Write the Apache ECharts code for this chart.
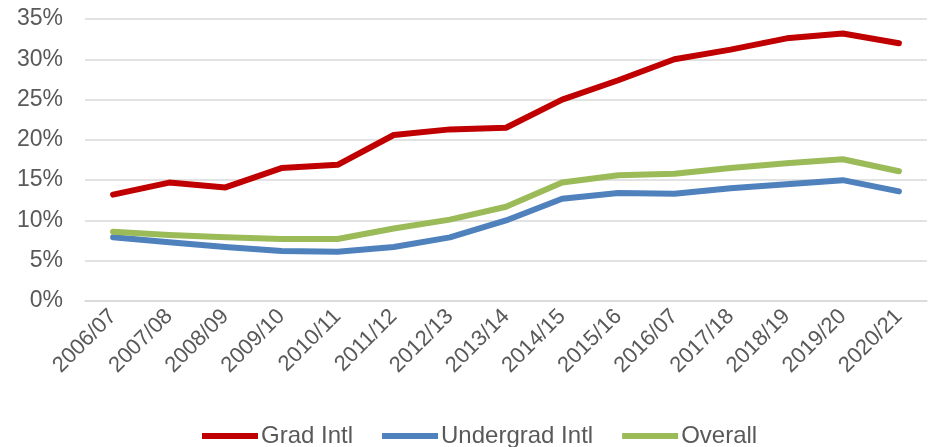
<!DOCTYPE html>
<html lang="en">
<head>
    <meta charset="UTF-8"/>
    <title>International share</title>
    <script src="https://cdn.jsdelivr.net/npm/echarts@6/dist/echarts.min.js"></script>
    <style>
        html, body { margin: 0; padding: 0; background: #fff; }
    </style>
</head>
<body>
<div id="main" style="width: 932px;height:447px;"></div>
<script type="text/javascript">
    // categories (the "2016/07" label is as printed in the original)
    var years = ['2006/07', '2007/08', '2008/09', '2009/10', '2010/11', '2011/12', '2012/13',
        '2013/14', '2014/15', '2015/16', '2016/07', '2017/18', '2018/19', '2019/20', '2020/21'];

    // percentages
    var gradIntl = [13.2, 14.7, 14.1, 16.5, 16.9, 20.6, 21.3, 21.5, 25.0, 27.4, 30.0, 31.2, 32.6, 33.2, 32.0];
    var undergradIntl = [7.9, 7.3, 6.7, 6.2, 6.1, 6.7, 7.9, 10.0, 12.7, 13.4, 13.3, 14.0, 14.5, 15.0, 13.6];
    var overall = [8.6, 8.2, 7.9, 7.7, 7.7, 9.0, 10.1, 11.7, 14.7, 15.6, 15.8, 16.5, 17.1, 17.6, 16.1];

    var yTicks = [0, 5, 10, 15, 20, 25, 30, 35];

    var font = 'Liberation Sans, Arial, sans-serif';
    var labelColor = '#595959';

    function line(name, data, color) {
        return {
            name: name,
            type: 'line',
            data: data,
            symbol: 'none',
            lineStyle: {width: 6, color: color, cap: 'round', join: 'round'},
            itemStyle: {color: color}
        };
    }

    var myChart = echarts.init(document.getElementById('main'));

    var option = {
        animation: false,
        grid: {left: 85, right: 5, top: 19, bottom: 146, containLabel: false},
        legend: {
            top: 419,
            left: 197,
            icon: 'rect',
            itemWidth: 56,
            itemHeight: 6,
            itemGap: 29,
            textStyle: {fontFamily: font, fontSize: 24, color: labelColor, padding: [0, 0, 0, -2]},
            data: ['Grad Intl', 'Undergrad Intl', 'Overall']
        },
        xAxis: {
            type: 'category',
            data: years,
            boundaryGap: true,
            axisLine: {show: true, lineStyle: {color: '#d9d9d9', width: 1.5}},
            axisTick: {show: false},
            axisLabel: {
                interval: 0,
                rotate: 45,
                margin: 12,
                fontFamily: font,
                fontSize: 22,
                color: labelColor
            }
        },
        yAxis: {
            type: 'value',
            min: yTicks[0],
            max: yTicks[yTicks.length - 1],
            interval: 5,
            axisLine: {show: false},
            axisTick: {show: false},
            splitLine: {lineStyle: {color: '#d9d9d9', width: 1.5}},
            axisLabel: {
                margin: 22,
                fontFamily: font,
                fontSize: 23,
                color: labelColor,
                formatter: '{value}%'
            }
        },
        series: [
            line('Grad Intl', gradIntl, '#c00000'),
            line('Undergrad Intl', undergradIntl, '#4f81bd'),
            line('Overall', overall, '#9bbb59')
        ]
    };

    myChart.setOption(option);
</script>
</body>
</html>
